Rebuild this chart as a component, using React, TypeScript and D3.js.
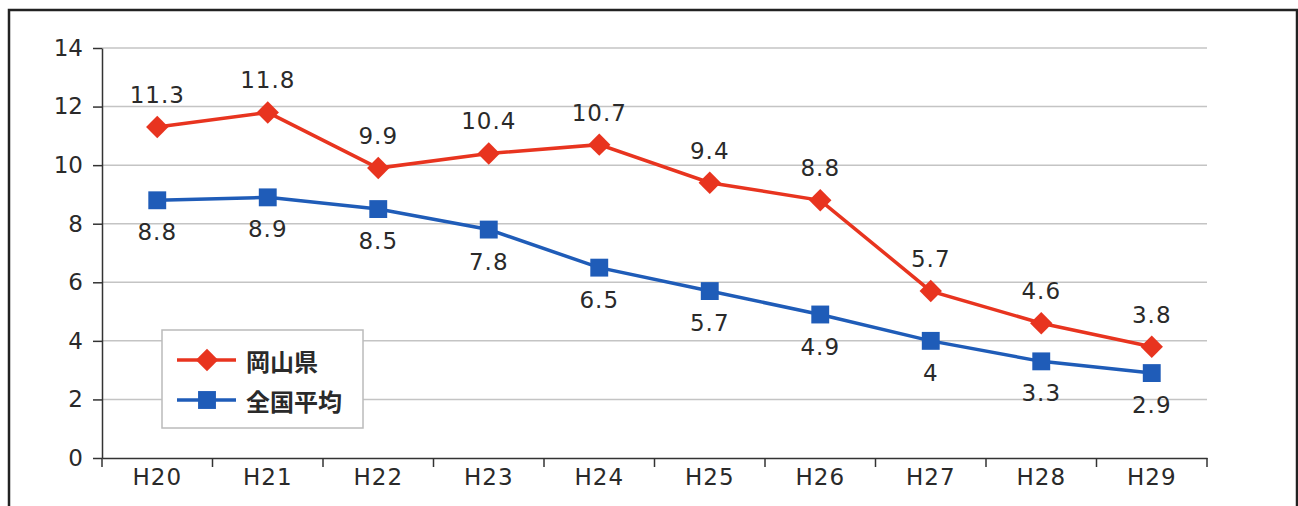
import React, { useEffect, useRef } from 'react';
import * as d3 from 'd3';

const years = ['H20', 'H21', 'H22', 'H23', 'H24', 'H25', 'H26', 'H27', 'H28', 'H29'];
const okayama = [11.3, 11.8, 9.9, 10.4, 10.7, 9.4, 8.8, 5.7, 4.6, 3.8];
const national = [8.8, 8.9, 8.5, 7.8, 6.5, 5.7, 4.9, 4, 3.3, 2.9];
const yTicks = [0, 2, 4, 6, 8, 10, 12, 14];
const seriesNames = ['岡山県', '全国平均'];

const RED = '#e8341f';
const BLUE = '#1f5cb8';
const NUM_FONT = '"DejaVu Sans", sans-serif';
const JP_FONT = '"Noto Sans CJK JP", "Noto Sans", sans-serif';

export default function App() {
  const ref = useRef<SVGSVGElement>(null);

  useEffect(() => {
    if (!ref.current) return;
    const svg = d3.select(ref.current);
    svg.selectAll('*').remove();

    const W = 1298;
    const H = 506;
    const margin = { top: 48, right: 91, bottom: 48, left: 102 };
    const width = W - margin.left - margin.right;
    const height = H - margin.top - margin.bottom;

    svg.append('rect').attr('width', W).attr('height', H).attr('fill', '#fff');
    // outer frame
    svg
      .append('rect')
      .attr('x', 9)
      .attr('y', 10)
      .attr('width', 1288)
      .attr('height', 520)
      .attr('fill', 'none')
      .attr('stroke', '#222')
      .attr('stroke-width', 2.5);

    const x = d3.scaleBand().domain(years).range([0, width]);
    const y = d3.scaleLinear().domain([0, 14]).range([height, 0]);

    const g = svg.append('g').attr('transform', `translate(${margin.left},${margin.top})`);

    // gridlines
    g.selectAll('.grid')
      .data(yTicks.filter((t) => t > 0))
      .enter()
      .append('line')
      .attr('x1', 0)
      .attr('x2', width)
      .attr('y1', (d) => y(d))
      .attr('y2', (d) => y(d))
      .attr('stroke', '#c4c4c4')
      .attr('stroke-width', 1.5);

    // y axis
    const yAxis = g
      .append('g')
      .call(d3.axisLeft(y).tickValues(yTicks).tickSize(9).tickSizeOuter(0).tickPadding(10));
    yAxis.select('.domain').attr('stroke', '#333').attr('stroke-width', 1.5);
    yAxis.selectAll('.tick line').attr('stroke', '#333').attr('stroke-width', 1.5);
    yAxis
      .selectAll('.tick text')
      .attr('font-size', 23)
      .attr('font-family', NUM_FONT)
      .attr('fill', '#2a2a2a');

    // x axis
    const xAxis = g
      .append('g')
      .attr('transform', `translate(0,${height})`)
      .call(d3.axisBottom(x).tickSize(0).tickPadding(11));
    xAxis.select('.domain').attr('stroke', '#333').attr('stroke-width', 1.5);
    xAxis
      .selectAll('.tick text')
      .attr('font-size', 23)
      .attr('font-family', NUM_FONT)
      .attr('letter-spacing', 1)
      .attr('fill', '#2a2a2a');
    g.selectAll('.xtick')
      .data(d3.range(years.length + 1))
      .enter()
      .append('line')
      .attr('x1', (i) => i * x.bandwidth())
      .attr('x2', (i) => i * x.bandwidth())
      .attr('y1', height)
      .attr('y2', height + 9)
      .attr('stroke', '#333')
      .attr('stroke-width', 1.5);

    const cx = (i: number) => (x(years[i]) as number) + x.bandwidth() / 2;
    const line = d3
      .line<number>()
      .x((_, i) => cx(i))
      .y((d) => y(d));

    const diamond = d3.symbol().type(d3.symbolDiamond2).size(320);
    const square = d3.symbol().type(d3.symbolSquare).size(320);

    const drawSeries = (
      values: number[],
      color: string,
      sym: d3.Symbol<any, any>,
      labelDy: number
    ) => {
      g.append('path')
        .datum(values)
        .attr('d', line)
        .attr('fill', 'none')
        .attr('stroke', color)
        .attr('stroke-width', 3.5);
      g.selectAll(null)
        .data(values)
        .enter()
        .append('path')
        .attr('d', sym as any)
        .attr('transform', (d, i) => `translate(${cx(i)},${y(d)})`)
        .attr('fill', color);
      g.selectAll(null)
        .data(values)
        .enter()
        .append('text')
        .text((d) => `${d}`)
        .attr('x', (_, i) => cx(i))
        .attr('y', (d) => y(d) + labelDy)
        .attr('text-anchor', 'middle')
        .attr('dominant-baseline', 'central')
        .attr('font-size', 23)
        .attr('letter-spacing', 1)
        .attr('font-family', NUM_FONT)
        .attr('fill', '#2a2a2a');
    };

    drawSeries(national, BLUE, square, 32);
    drawSeries(okayama, RED, diamond, -32);

    // legend
    const lg = svg.append('g').attr('transform', 'translate(162,330)');
    lg.append('rect')
      .attr('width', 201)
      .attr('height', 98)
      .attr('fill', '#fff')
      .attr('stroke', '#bbb')
      .attr('stroke-width', 1.5);
    const items = [
      { name: seriesNames[0], color: RED, sym: diamond },
      { name: seriesNames[1], color: BLUE, sym: square },
    ];
    items.forEach((it, i) => {
      const yy = 30 + i * 40;
      lg.append('line')
        .attr('x1', 15)
        .attr('x2', 74)
        .attr('y1', yy)
        .attr('y2', yy)
        .attr('stroke', it.color)
        .attr('stroke-width', 3.5);
      lg.append('path')
        .attr('d', it.sym as any)
        .attr('transform', `translate(45,${yy})`)
        .attr('fill', it.color);
      lg.append('text')
        .text(it.name)
        .attr('x', 84)
        .attr('y', yy)
        .attr('dominant-baseline', 'central')
        .attr('font-size', 24)
        .attr('font-family', JP_FONT)
        .attr('font-weight', 'bold')
        .attr('fill', '#2a2a2a');
    });
  }, []);

  return (
    <svg
      ref={ref}
      width={1298}
      height={506}
      style={{ position: 'absolute', left: 0, top: 0, display: 'block' }}
    />
  );
}
